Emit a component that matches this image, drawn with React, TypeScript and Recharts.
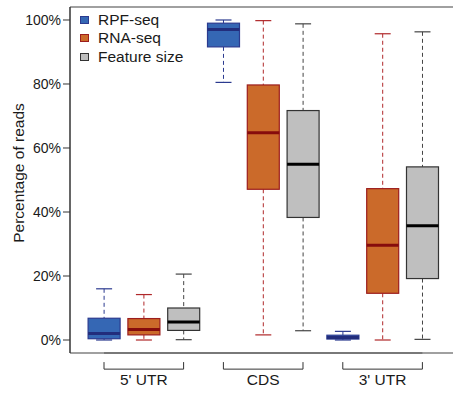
import React from "react";
import { ComposedChart, Bar, XAxis, YAxis, ReferenceLine, Label } from "recharts";

const groups = ["5' UTR", "CDS", "3' UTR"];
const seriesNames = ["RPF-seq", "RNA-seq", "Feature size"];

// five-number summary of each box, group by group, series order inside a group
const whiskerLow = [0, 0, 0.1, 80.5, 1.6, 2.9, 0, 0, 0.2];
const lowerQuartile = [0.4, 1.6, 3.0, 91.6, 47.1, 38.3, 0.3, 14.6, 19.2];
const medians = [2.0, 3.3, 5.6, 97.0, 64.8, 54.9, 0.8, 29.6, 35.7];
const upperQuartile = [6.8, 6.7, 10.0, 99.0, 79.7, 71.7, 1.5, 47.3, 54.1];
const whiskerHigh = [16.0, 14.2, 20.6, 100, 99.8, 98.8, 2.7, 95.7, 96.3];

const yTicks = [0, 20, 40, 60, 80, 100];

const FONT = "'Liberation Sans', Arial, Helvetica, sans-serif";
const Y_MIN = -4.06;
const Y_MAX = 104.06;
const X_DOMAIN: [number, number] = [0.1457, 9.769];

const palette = [
  { fill: "#3567b4", edge: "#2b3a8f", median: "#222d7c", whisker: "#2b3a8f" },
  { fill: "#cb6a2a", edge: "#9c1d1d", median: "#860c0c", whisker: "#b0282a" },
  { fill: "#bfbfbf", edge: "#333333", median: "#000000", whisker: "#444444" },
];

const rows = medians.map((med, i) => ({
  pos: i + 1,
  series: i % 3,
  lo: whiskerLow[i],
  q1: lowerQuartile[i],
  med,
  q3: upperQuartile[i],
  hi: whiskerHigh[i],
}));

const groupCenters = groups.map((_, g) => g * 3 + 2);

// bar spans lo..hi; the rest of the box is placed along that same span
function BoxShape(props: any) {
  const { x, y, width, height, payload } = props;
  const top = Math.min(y, y + height);
  const bottom = Math.max(y, y + height);
  const k = (bottom - top) / (payload.hi - payload.lo);
  const toY = (v: number) => bottom - (v - payload.lo) * k;
  const cx = x + width / 2;
  const c = palette[payload.series];
  const yq1 = toY(payload.q1);
  const yq3 = toY(payload.q3);
  const ym = toY(payload.med);
  const cap = width / 4;
  return (
    <g>
      <line x1={cx} x2={cx} y1={top} y2={yq3} stroke={c.whisker} strokeDasharray="4 3" />
      <line x1={cx} x2={cx} y1={yq1} y2={bottom} stroke={c.whisker} strokeDasharray="4 3" />
      <line x1={cx - cap} x2={cx + cap} y1={top} y2={top} stroke={c.whisker} strokeWidth={1.2} />
      <line x1={cx - cap} x2={cx + cap} y1={bottom} y2={bottom} stroke={c.whisker} strokeWidth={1.2} />
      <rect x={x} y={yq3} width={width} height={Math.max(yq1 - yq3, 0.5)} fill={c.fill} stroke={c.edge} strokeWidth={1.2} />
      <line x1={x} x2={x + width} y1={ym} y2={ym} stroke={c.median} strokeWidth={3} />
    </g>
  );
}

function GroupTick({ x, y, payload }: any) {
  const g = groupCenters.indexOf(payload.value);
  return (
    <text x={x} y={y + 32} textAnchor="middle" fontSize={15.5} fill="#1a1a1a" fontFamily={FONT}>
      {groups[g]}
    </text>
  );
}

function Legend() {
  return (
    <div style={{ position: "absolute", left: 80, top: 11, fontFamily: FONT, fontSize: 15.5, color: "#1a1a1a" }}>
      {seriesNames.map((name, i) => (
        <div key={name} style={{ display: "flex", alignItems: "center", height: 18.3 }}>
          <span
            style={{
              display: "inline-block",
              width: 7,
              height: 6,
              background: palette[i].fill,
              border: `1px solid ${palette[i].edge}`,
              marginRight: 9,
            }}
          />
          <span>{name}</span>
        </div>
      ))}
    </div>
  );
}

const BRACKET_Y = -9.1;
const BRACKET_TOP = -6.9;

export default function App() {
  return (
    <div style={{ position: "absolute", left: 0, top: 0, width: 453, height: 396, background: "#fff" }}>
      <ComposedChart width={453} height={396} data={rows} margin={{ top: 7, right: 0, bottom: 0, left: 0 }}>
        <XAxis
          type="number"
          dataKey="pos"
          domain={X_DOMAIN}
          allowDataOverflow
          ticks={groupCenters}
          tickLine={false}
          tickSize={0}
          tickMargin={0}
          height={43}
          axisLine={{ stroke: "#808080", strokeWidth: 1.5 }}
          tick={<GroupTick />}
        />
        <YAxis
          type="number"
          domain={[Y_MIN, Y_MAX]}
          allowDataOverflow
          ticks={yTicks}
          width={70}
          tickSize={7}
          tickMargin={2}
          tickFormatter={(v: number) => `${v}%`}
          tick={{ fontSize: 14, fill: "#1a1a1a", fontFamily: FONT }}
          tickLine={{ stroke: "#333" }}
          axisLine={{ stroke: "#333", strokeWidth: 1.5 }}
        >
          <Label
            content={() => (
              <text
                transform="translate(18.5,173) rotate(-90)"
                textAnchor="middle"
                dominantBaseline="central"
                fontSize={15.5}
                fill="#1a1a1a"
                fontFamily={FONT}
              >
                Percentage of reads
              </text>
            )}
          />
        </YAxis>
        <ReferenceLine y={Y_MAX} stroke="#808080" strokeWidth={1.5} />
        <ReferenceLine
          segment={[{ x: 1, y: Y_MIN }, { x: 9, y: Y_MIN }]}
          stroke="#333"
          strokeWidth={1.5}
          ifOverflow="visible"
        />
        {groups.map((grp, g) => (
          <ReferenceLine
            key={`b-${grp}`}
            segment={[{ x: g * 3 + 1, y: BRACKET_Y }, { x: g * 3 + 3, y: BRACKET_Y }]}
            stroke="#333"
            ifOverflow="visible"
          />
        ))}
        {groups.map((grp, g) => (
          <ReferenceLine
            key={`l-${grp}`}
            segment={[{ x: g * 3 + 1, y: BRACKET_TOP }, { x: g * 3 + 1, y: BRACKET_Y }]}
            stroke="#333"
            ifOverflow="visible"
          />
        ))}
        {groups.map((grp, g) => (
          <ReferenceLine
            key={`r-${grp}`}
            segment={[{ x: g * 3 + 3, y: BRACKET_TOP }, { x: g * 3 + 3, y: BRACKET_Y }]}
            stroke="#333"
            ifOverflow="visible"
          />
        ))}
        <Bar
          dataKey={(d: any) => [d.lo, d.hi]}
          barSize={32}
          shape={<BoxShape />}
          isAnimationActive={false}
        />
      </ComposedChart>
      <Legend />
    </div>
  );
}
